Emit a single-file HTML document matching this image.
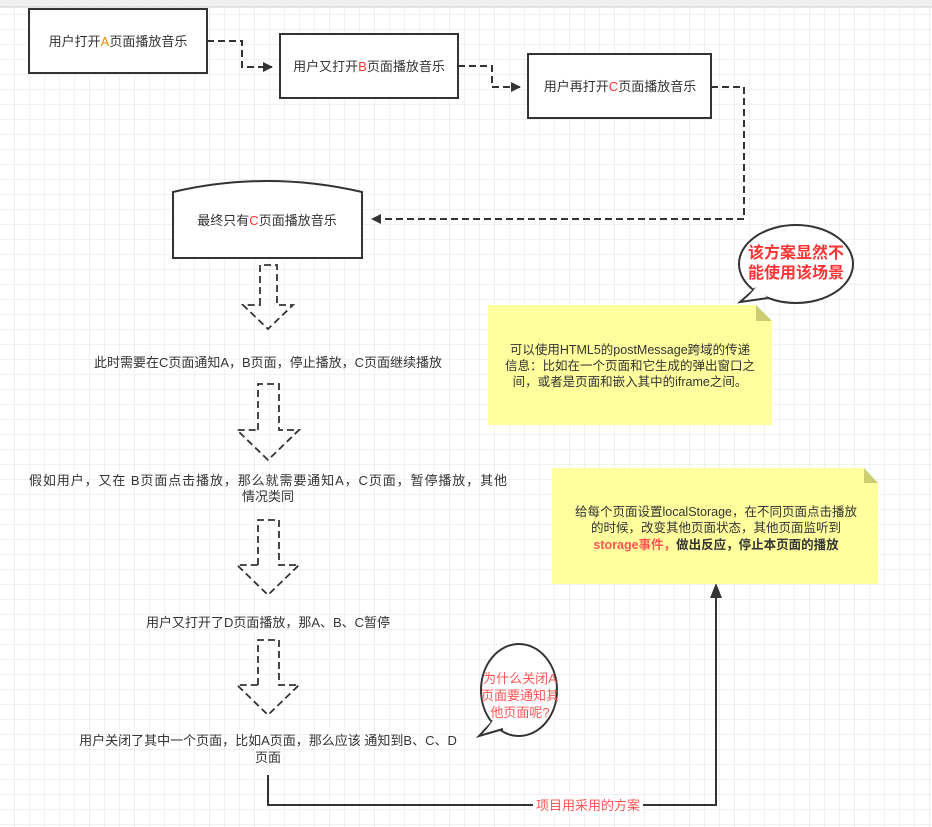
<!DOCTYPE html>
<html><head><meta charset="utf-8"><style>
body{margin:0;width:932px;height:827px;overflow:hidden;background:#fff;}
svg{display:block;font-family:"Liberation Sans","Noto Sans CJK SC",sans-serif;}
</style></head><body>
<svg width="932" height="827" viewBox="0 0 932 827">
<defs>
<pattern id="g" width="15" height="15" patternUnits="userSpaceOnUse">
<path d="M15 0V15H0" fill="none" stroke="#e3e3e3" stroke-width="1"/>
</pattern>
<marker id="ar" markerWidth="10" markerHeight="10" refX="9" refY="5" orient="auto" markerUnits="userSpaceOnUse">
<path d="M0 0L10 5L0 10Z" fill="#333"/>
</marker>
</defs>
<rect width="932" height="827" fill="url(#g)"/>
<rect width="932" height="7" fill="#f0f0f0"/>
<line x1="0" y1="7" x2="932" y2="7" stroke="#ccc"/>

<g fill="#fff" stroke="#333" stroke-width="2">
<rect x="29" y="9" width="178" height="64"/>
<rect x="280" y="34" width="178" height="64"/>
<rect x="528" y="54" width="183" height="64"/>
<path d="M173 192Q267 170 362 192V258H173Z"/>
</g>
<g font-size="13" fill="#333" text-anchor="middle">
<text x="118" y="46">用户打开<tspan fill="#f80">A</tspan>页面播放音乐</text>
<text x="369" y="71">用户又打开<tspan fill="#f33">B</tspan>页面播放音乐</text>
<text x="620" y="91">用户再打开<tspan fill="#f33">C</tspan>页面播放音乐</text>
<text x="267" y="225">最终只有<tspan fill="#f33">C</tspan>页面播放音乐</text>
<text x="268" y="367">此时需要在C页面通知A，B页面，停止播放，C页面继续播放</text>
<text x="268" y="485" textLength="478">假如用户，又在 B页面点击播放，那么就需要通知A，C页面，暂停播放，其他</text>
<text x="268" y="501">情况类同</text>
<text x="268" y="627">用户又打开了D页面播放，那A、B、C暂停</text>
<text x="268" y="745">用户关闭了其中一个页面，比如A页面，那么应该 通知到B、C、D</text>
<text x="268" y="762">页面</text>
</g>

<g fill="none" stroke="#333" stroke-width="2" stroke-dasharray="7,4">
<path d="M207 41H242V67H272" marker-end="url(#ar)"/>
<path d="M458 66H492V87H520" marker-end="url(#ar)"/>
<path d="M711 87H744V219H372" marker-end="url(#ar)"/>
<path d="M260 305V265H277V305H293L268 329L243 305Z" stroke-width="1.8"/>
<path d="M258 430V384H279V430H299L268 460L237 430Z" stroke-width="1.8"/>
<path d="M258 565V520H279V565H299L268 595L237 565Z" stroke-width="1.8"/>
<path d="M258 685V640H279V685H299L268 715L237 685Z" stroke-width="1.8"/>
</g>

<path d="M268 775V805H716V593" fill="none" stroke="#333" stroke-width="2"/>
<path d="M710 598L716 583L722 598Z" fill="#333"/>
<rect x="533" y="797" width="110" height="16" fill="#fff"/>
<text x="588" y="810" font-size="13" fill="#f55" text-anchor="middle">项目用采用的方案</text>

<ellipse cx="519" cy="690" rx="38" ry="46" fill="#fff" stroke="#333" stroke-width="2"/>
<path d="M493 721L479 736L503 729" fill="#fff" stroke="#333" stroke-width="2"/>
<path d="M494 719L484 733L506 726Z" fill="#fff"/>
<g font-size="13" fill="#f55" text-anchor="middle">
<text x="520" y="683">为什么关闭A</text>
<text x="520" y="700">页面要通知其</text>
<text x="520" y="717">他页面呢?</text>
</g>

<ellipse cx="796" cy="264" rx="57" ry="39" fill="#fff" stroke="#333" stroke-width="2"/>
<path d="M756 288L740 302L768 298" fill="#fff" stroke="#333" stroke-width="2"/>
<path d="M758 285L746 299L770 294Z" fill="#fff"/>
<g font-size="16" font-weight="bold" fill="#f33" text-anchor="middle">
<text x="796" y="258">该方案显然不</text>
<text x="796" y="278">能使用该场景</text>
</g>

<path d="M488 305H756L772 321V425H488Z" fill="#ffff9e"/>
<path d="M756 305V321H772Z" fill="#cccc70"/>
<g font-size="12.5" fill="#333" text-anchor="middle">
<text x="630" y="354">可以使用HTML5的postMessage跨域的传递</text>
<text x="630" y="370">信息：比如在一个页面和它生成的弹出窗口之</text>
<text x="630" y="386">间，或者是页面和嵌入其中的iframe之间。</text>
</g>

<path d="M552 468H864L878 483V584H552Z" fill="#ffff9e"/>
<path d="M864 468V483H878Z" fill="#cccc70"/>
<g font-size="12.5" fill="#333" text-anchor="middle">
<text x="716" y="516">给每个页面设置localStorage，在不同页面点击播放</text>
<text x="716" y="532">的时候，改变其他页面状态，其他页面监听到</text>
<text x="716" y="549" font-weight="bold"><tspan fill="#f55">storage事件，</tspan>做出反应，停止本页面的播放</text>
</g>
</svg>
</body></html>
